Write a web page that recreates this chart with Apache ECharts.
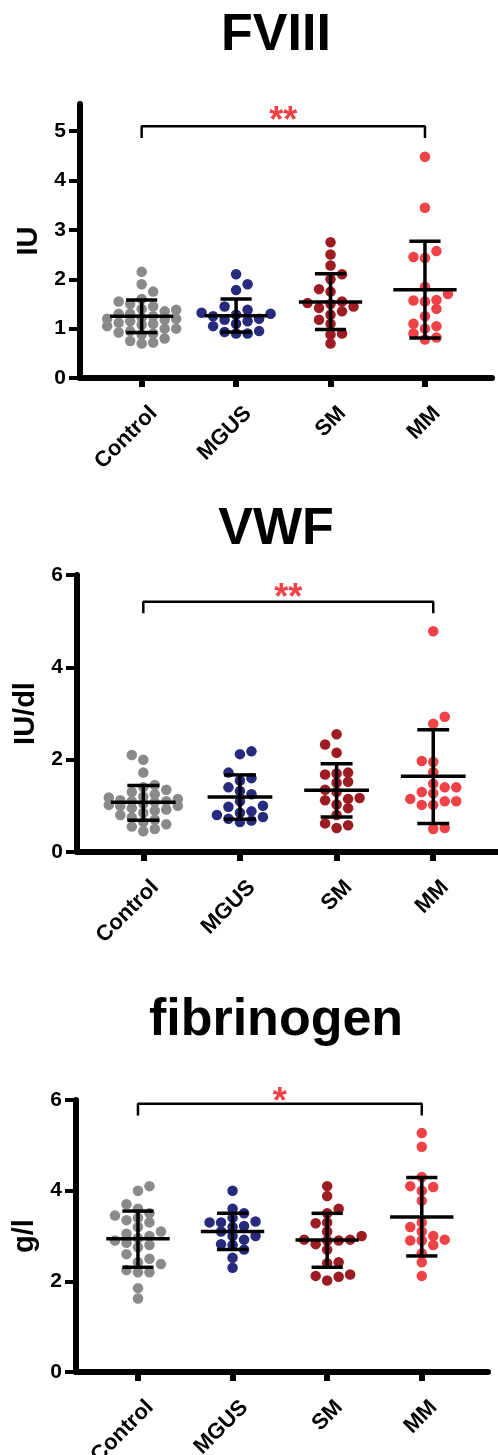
<!DOCTYPE html>
<html><head><meta charset="utf-8">
<script src="https://cdn.jsdelivr.net/npm/echarts@6/dist/echarts.min.js"></script>
<style>html,body{margin:0;padding:0;background:#fff}#c{width:498px;height:1455px}</style>
</head><body><div id="c"></div>
<script>
// ---------- data ----------
const categories = ['Control', 'MGUS', 'SM', 'MM'];
const panelTitles = ['FVIII', 'VWF', 'fibrinogen'];
const yAxisNames = ['IU', 'IU/dl', 'g/l'];
const yTickValues = [[0, 1, 2, 3, 4, 5], [0, 2, 4, 6], [0, 2, 4, 6]];
const yMax = [5.55, 6, 6];

const fviiiControl = [2.15, 1.9, 1.75, 1.6, 1.55, 1.5, 1.45, 1.4, 1.38, 1.35, 1.3, 1.3, 1.25, 1.22, 1.2, 1.2, 1.18, 1.15, 1.12, 1.1, 1.08, 1.05, 1.0, 1.0, 0.95, 0.92, 0.9, 0.88, 0.8, 0.75, 0.72, 0.7];
const fviiiMGUS = [2.1, 1.9, 1.78, 1.45, 1.38, 1.32, 1.3, 1.28, 1.25, 1.2, 1.18, 1.15, 1.1, 1.05, 0.95, 0.93, 0.9, 0.9];
const fviiiSM = [2.75, 2.5, 2.28, 2.1, 2.0, 1.8, 1.75, 1.55, 1.52, 1.5, 1.45, 1.42, 1.35, 1.28, 1.18, 1.1, 0.9, 0.88, 0.7];
const fviiiMM = [4.48, 3.45, 2.57, 2.45, 2.43, 1.85, 1.7, 1.58, 1.57, 1.55, 1.4, 1.25, 1.1, 1.05, 1.0, 0.9, 0.82, 0.78];
const fviiiMean = [1.25, 1.26, 1.54, 1.79];
const fviiiSdLow = [0.92, 0.93, 0.98, 0.81];
const fviiiSdHigh = [1.58, 1.6, 2.11, 2.77];

const vwfControl = [2.1, 2.0, 1.72, 1.45, 1.4, 1.35, 1.3, 1.25, 1.2, 1.18, 1.15, 1.12, 1.1, 1.1, 1.08, 1.05, 1.02, 1.0, 1.0, 0.95, 0.92, 0.9, 0.85, 0.8, 0.75, 0.7, 0.65, 0.6, 0.55, 0.5, 0.45];
const vwfMGUS = [2.18, 2.12, 1.72, 1.6, 1.55, 1.4, 1.32, 1.25, 1.1, 1.0, 0.98, 0.88, 0.85, 0.8, 0.76, 0.72, 0.68, 0.65];
const vwfSM = [2.55, 2.33, 2.15, 1.72, 1.7, 1.68, 1.52, 1.5, 1.35, 1.3, 1.17, 1.15, 1.12, 1.03, 0.95, 0.8, 0.62, 0.58, 0.52];
const vwfMM = [4.78, 2.93, 2.78, 1.97, 1.95, 1.73, 1.48, 1.4, 1.4, 1.3, 1.27, 1.15, 1.1, 1.1, 1.02, 1.02, 0.52, 0.5];
const vwfMean = [1.08, 1.19, 1.34, 1.64];
const vwfSdLow = [0.69, 0.71, 0.76, 0.62];
const vwfSdHigh = [1.44, 1.67, 1.91, 2.65];

const fibControl = [4.1, 4.0, 3.7, 3.6, 3.5, 3.45, 3.4, 3.35, 3.3, 3.2, 3.1, 3.05, 3.0, 2.95, 2.9, 2.85, 2.8, 2.75, 2.6, 2.5, 2.42, 2.38, 2.25, 2.2, 2.2, 1.85, 1.62];
const fibMGUS = [4.0, 3.6, 3.5, 3.4, 3.32, 3.3, 3.3, 3.22, 3.2, 3.1, 3.0, 3.0, 2.92, 2.82, 2.8, 2.7, 2.52, 2.3];
const fibSM = [4.1, 3.88, 3.6, 3.5, 3.3, 3.28, 3.1, 3.0, 2.92, 2.92, 2.9, 2.9, 2.82, 2.7, 2.42, 2.4, 2.15, 2.12, 2.1, 2.02];
const fibMM = [5.27, 4.97, 4.3, 4.1, 4.08, 4.0, 3.78, 3.3, 3.2, 3.1, 3.0, 2.92, 2.9, 2.9, 2.8, 2.62, 2.42, 2.12];
const fibMean = [2.94, 3.1, 2.91, 3.42];
const fibSdLow = [2.31, 2.7, 2.31, 2.56];
const fibSdHigh = [3.55, 3.5, 3.5, 4.29];

// significance bracket: Control vs MM
const significance = ['**', '**', '*'];
const bracketFrom = 1, bracketTo = 4;
const bracketLevel = [5.10, 5.42, 5.92];
const bracketEnd = [4.86, 5.17, 5.66];
const starLevel = [5.19, 5.48, 5.94];

// ---------- layout / style ----------
const panelValues = [
  [fviiiControl, fviiiMGUS, fviiiSM, fviiiMM],
  [vwfControl, vwfMGUS, vwfSM, vwfMM],
  [fibControl, fibMGUS, fibSM, fibMM]
];
const panelStats = [
  [fviiiMean, fviiiSdLow, fviiiSdHigh],
  [vwfMean, vwfSdLow, vwfSdHigh],
  [fibMean, fibSdLow, fibSdHigh]
];
const groupColors = ['#8a8a8a', '#262b7e', '#9d1c21', '#ee4247'];
const grids = [
  { left: 80, top: 104, width: 412, height: 274, containLabel: false, outerBoundsMode: 'none' },
  { left: 77, top: 575, width: 421, height: 277, containLabel: false, outerBoundsMode: 'none' },
  { left: 76, top: 1100, width: 412, height: 272, containLabel: false, outerBoundsMode: 'none' }
];
const xRange = [[0.347, 4.71], [0.314, 4.67], [0.345, 4.70]];
const labelShiftPx = 12;
const titleY = [36, 530, 1021];
const FONT = '"Liberation Sans", Arial, Helvetica, sans-serif';

const chart = echarts.init(document.getElementById('c'), null, { renderer: 'canvas' });

function buildOption(offsets) {
  const xAxis = [], yAxis = [], series = [], graphic = [];
  for (let p = 0; p < 3; p++) {
    const unitsPerPx = (xRange[p][1] - xRange[p][0]) / grids[p].width;
    const sh = labelShiftPx * unitsPerPx;
    // main axis: line + ticks
    xAxis.push({
      type: 'value', gridIndex: p, min: xRange[p][0], max: xRange[p][1],
      axisLine: { show: true, lineStyle: { color: '#000', width: 6 } },
      axisTick: { show: true, customValues: [1, 2, 3, 4], length: 9, lineStyle: { color: '#000', width: 6 } },
      axisLabel: { show: false },
      splitLine: { show: false }
    });
    // label axis (same scale, labels nudged right as in the original)
    xAxis.push({
      type: 'value', gridIndex: p, position: 'bottom', min: xRange[p][0] - sh, max: xRange[p][1] - sh,
      axisLine: { show: false }, axisTick: { show: false }, splitLine: { show: false },
      axisLabel: {
        customValues: [1, 2, 3, 4], rotate: 45, margin: 32,
        formatter: v => categories[Math.round(v) - 1] || '',
        color: '#000', fontSize: 22, fontWeight: 'bold', fontFamily: FONT
      }
    });
    yAxis.push({
      type: 'value', gridIndex: p, min: 0, max: yMax[p],
      name: yAxisNames[p], nameLocation: 'middle', nameGap: 36, nameRotate: 90,
      nameTextStyle: { color: '#000', fontSize: 29, fontWeight: 'bold', fontFamily: FONT },
      axisLine: { show: true, lineStyle: { color: '#000', width: 6 } },
      axisTick: { show: true, customValues: yTickValues[p], length: 11, lineStyle: { color: '#000', width: 4 } },
      axisLabel: { customValues: yTickValues[p], margin: 14, color: '#000', fontSize: 21, fontWeight: 'bold', fontFamily: FONT },
      splitLine: { show: false }
    });
    const xi = p * 2;
    panelValues[p].forEach((vals, g) => {
      series.push({
        type: 'scatter', xAxisIndex: xi, yAxisIndex: p, symbol: 'circle', symbolSize: 10.5,
        itemStyle: { color: groupColors[g], opacity: 1 }, z: 2, silent: true,
        data: vals.map((v, i) => [g + 1 + (offsets ? offsets[p][g][i] : 0), v])
      });
    });
    const st = panelStats[p];
    series.push({
      type: 'custom', xAxisIndex: xi, yAxisIndex: p, z: 5, silent: true,
      data: categories.map((c, i) => [i + 1, st[0][i], st[1][i], st[2][i]]),
      renderItem: (params, api) => {
        const x = api.value(0), m = api.value(1), lo = api.value(2), hi = api.value(3);
        const seg = (a, b, c, d) => {
          const p1 = api.coord([a, b]), p2 = api.coord([c, d]);
          return { type: 'line', shape: { x1: p1[0], y1: p1[1], x2: p2[0], y2: p2[1] }, style: { stroke: '#000', lineWidth: 3.5 } };
        };
        return { type: 'group', children: [
          seg(x - 0.335, m, x + 0.335, m),
          seg(x, lo, x, hi),
          seg(x - 0.165, lo, x + 0.165, lo),
          seg(x - 0.165, hi, x + 0.165, hi)
        ] };
      }
    });
    series.push({
      type: 'line', xAxisIndex: xi, yAxisIndex: p, symbol: 'none', silent: true, z: 4,
      lineStyle: { color: '#000', width: 2.5 },
      data: [[bracketFrom, bracketEnd[p]], [bracketFrom, bracketLevel[p]], [bracketTo, bracketLevel[p]], [bracketTo, bracketEnd[p]]]
    });
    series.push({
      type: 'custom', xAxisIndex: xi, yAxisIndex: p, z: 6, silent: true, clip: false,
      data: [[(bracketFrom + bracketTo) / 2, starLevel[p]]],
      renderItem: (params, api) => {
        const c = api.coord([api.value(0), api.value(1)]);
        return { type: 'text', x: c[0], y: c[1], style: { text: significance[p], fill: '#ee4247', font: 'bold 36px ' + FONT, textAlign: 'center', textVerticalAlign: 'middle' } };
      }
    });
    graphic.push({
      type: 'text', x: 276, y: titleY[p], silent: true,
      style: { text: panelTitles[p], fill: '#000', font: 'bold 52px ' + FONT, textAlign: 'center', textVerticalAlign: 'middle' }
    });
  }
  return {
    animation: false, backgroundColor: '#fff',
    grid: grids, xAxis, yAxis, series, graphic
  };
}

chart.setOption(buildOption(null));

// beeswarm-style column layout, computed through the chart's own scales
function swarm(vals, p) {
  const a = chart.convertToPixel({ xAxisIndex: p * 2, yAxisIndex: p }, [1, 0]);
  const b = chart.convertToPixel({ xAxisIndex: p * 2, yAxisIndex: p }, [2, 1]);
  const pxX = b[0] - a[0], pxY = a[1] - b[1];
  const step = 11.5, sep = 8.5, maxCol = 3;
  const order = vals.map((v, i) => i).sort((i, j) => vals[i] - vals[j]);
  const placed = [];
  const offs = new Array(vals.length).fill(0);
  const count = c => placed.filter(q => q.col === c).length;
  const minDist = (c, py) => placed.filter(q => q.col === c).reduce((m, q) => Math.min(m, Math.abs(q.py - py)), Infinity);
  order.forEach(i => {
    const py = vals[i] * pxY;
    let found = null;
    for (let k = 0; k <= maxCol && found === null; k++) {
      let cands = k === 0 ? [0] : [k, -k];
      cands.sort((c1, c2) => count(c1) - count(c2));
      for (const c of cands) { if (minDist(c, py) >= sep) { found = c; break; } }
    }
    if (found === null) {
      let best = -1;
      for (let k = 0; k <= maxCol; k++) {
        for (const c of (k === 0 ? [0] : [k, -k])) {
          const d = minDist(c, py);
          if (d > best + 0.5) { best = d; found = c; }
        }
      }
    }
    placed.push({ col: found, py });
    offs[i] = found * step / pxX;
  });
  return offs;
}
const offsets = panelValues.map((groups, p) => groups.map(vals => swarm(vals, p)));
chart.setOption(buildOption(offsets), { notMerge: true });
</script>
</body></html>
